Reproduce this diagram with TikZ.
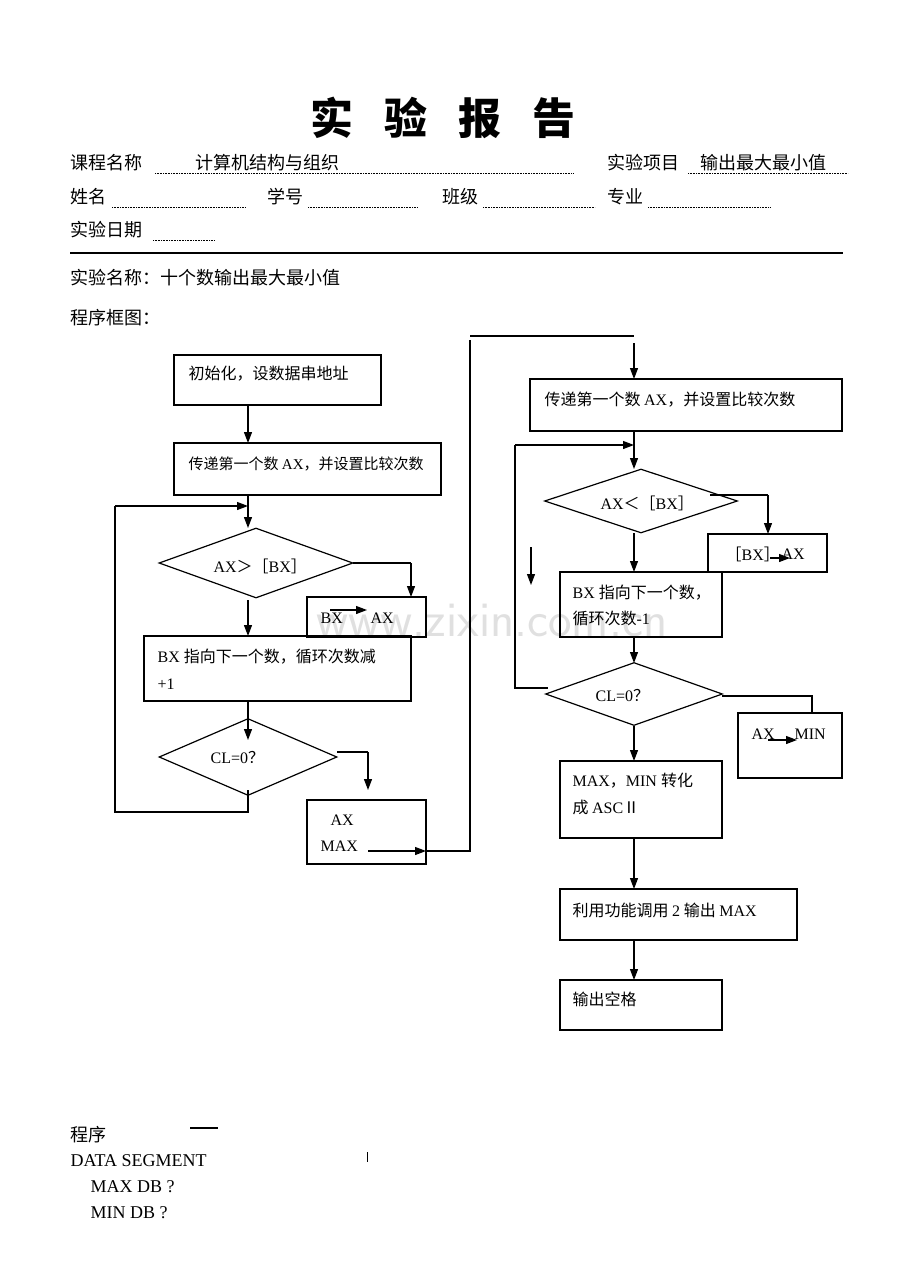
\documentclass[tikz,border=0pt]{standalone}
\usepackage{fontspec}
\setmainfont{Liberation Serif}
\newfontfamily\cjk{Noto Sans CJK SC}
\usetikzlibrary{shapes.geometric,arrows.meta}
\begin{document}
\begin{tikzpicture}[x=1pt,y=-1pt,line width=1.2pt,
  box/.style={draw},
  t/.style={anchor=west,inner sep=0pt,font=\fontsize{16}{19}\selectfont},
  ts/.style={anchor=west,inner sep=0pt,font=\fontsize{15}{18}\selectfont},
  h/.style={anchor=west,inner sep=0pt,font=\fontsize{18}{20}\selectfont},
  ln/.style={},
  ar/.style={-{Triangle[length=11pt,width=8pt]}},
  dots/.style={densely dotted,line width=0.6pt}]
\useasboundingbox (0,0) rectangle (920,1277);
% watermark
\node[text=black!12,font=\fontsize{50}{52}\selectfont\sffamily] (wm) at (492,620) {www.zixin.com.cn};
% header
\node[font=\fontsize{43}{48}\selectfont\cjk\bfseries] (title) at (443,118) {实\hspace{0.72em}验\hspace{0.72em}报\hspace{0.72em}告};
\node[h] (k1) at (70,163) {\cjk 课程名称};
\draw[dots] (155,173) -- (573,173);
\node[h] (k1v) at (195,163) {\cjk 计算机结构与组织};
\node[h] (k2) at (607,163) {\cjk 实验项目};
\draw[dots] (688,173) -- (848,173);
\node[h] (k2v) at (700,163) {\cjk 输出最大最小值};
\node[h] (k3) at (70,197) {\cjk 姓名}; \draw[dots] (112,207) -- (245,207);
\node[h] (k4) at (267,197) {\cjk 学号}; \draw[dots] (308,207) -- (418,207);
\node[h] (k5) at (442,197) {\cjk 班级}; \draw[dots] (483,207) -- (595,207);
\node[h] (k6) at (607,197) {\cjk 专业}; \draw[dots] (648,207) -- (770,207);
\node[h] (k7) at (70,230) {\cjk 实验日期}; \draw[dots] (153,240) -- (214,240);
\draw[line width=1.6pt] (70,253) -- (843,253);
\node[h] (name) at (70,278) {\cjk 实验名称：十个数输出最大最小值};
\node[h] (kt) at (70,318) {\cjk 程序框图：};
% left chart
\draw[box] (174,355) rectangle (381,405);
\node[t] (l1) at (188,374) {\cjk 初始化，设数据串地址};
\draw[box] (174,443) rectangle (441,495);
\node[ts] (l2) at (188,464) {\cjk 传递第一个数 {\rmfamily AX}，并设置比较次数};
\draw[ar] (248,405) -- (248,443);
\draw[ar] (248,495) -- (248,528);
\draw[ar] (115,506) -- (248,506);
\node[draw,diamond,aspect=2.77,minimum width=194,minimum height=70,inner sep=0pt] (d1) at (256,563) {};
\node[t] (d1t) at (213,566) {AX\cjk ＞［\rmfamily BX\cjk ］};
\draw[ln] (353,563) -- (411,563); \draw[ar] (411,563) -- (411,597);
\draw[box] (307,597) rectangle (426,637);
\node[t] (b1a) at (320,618) {BX}; \node[t] (b1b) at (370,618) {AX};
\draw[ar] (330,610) -- (367,610);
\draw[ar] (248,600) -- (248,636);
\draw[box] (144,636) rectangle (411,701);
\node[t] (l3) at (157,657) {BX \cjk 指向下一个数，循环次数减};
\node[t] (l3b) at (157,684) {+1};
\draw[ar] (248,701) -- (248,740);
\node[draw,diamond,aspect=2.31,minimum width=178,minimum height=77,inner sep=0pt] (d2) at (248,757) {};
\node[t] (d2t) at (210,757) {CL=0\cjk ？};
\draw[ln] (337,752) -- (368,752); \draw[ar] (368,752) -- (368,790);
\draw[ln] (248,790) -- (248,812) -- (115,812) -- (115,506);
\draw[box] (307,800) rectangle (426,864);
\node[t] (m1) at (330,820) {AX}; \node[t] (m2) at (320,846) {MAX};
\draw[ar] (368,851) -- (426,851);
\draw[ln] (426,851) -- (470,851) -- (470,340);
\draw[ln] (470,336) -- (634,336);
\draw[ar] (634,343) -- (634,379);
% right chart
\draw[box] (530,379) rectangle (842,431);
\node[t] (r1) at (544,400) {\cjk 传递第一个数 {\rmfamily AX}，并设置比较次数};
\draw[ar] (634,431) -- (634,469);
\draw[ar] (515,445) -- (634,445);
\node[draw,diamond,aspect=3.0,minimum width=193,minimum height=64,inner sep=0pt] (rd1) at (641,501) {};
\node[t] (rd1t) at (600,503) {AX\cjk ＜［\rmfamily BX\cjk ］};
\draw[ln] (710,495) -- (768,495); \draw[ar] (768,495) -- (768,534);
\draw[box] (708,534) rectangle (827,572);
\node[t] (rb1) at (725,554) {\cjk ［\rmfamily BX\cjk ］};
\node[t] (rb2) at (781,554) {AX};
\draw[ar] (770,558) -- (790,558);
\draw[ar] (634,533) -- (634,572);
\draw[ar] (531,547) -- (531,585);
\draw[box] (560,572) rectangle (722,637);
\node[t] (r3a) at (572,593) {BX \cjk 指向下一个数，};
\node[t] (r3b) at (572,618) {\cjk 循环次数{\rmfamily -1}};
\draw[ar] (634,637) -- (634,663);
\node[draw,diamond,aspect=2.8,minimum width=177,minimum height=63,inner sep=0pt] (rd2) at (634,694) {};
\node[t] (rd2t) at (595,695) {CL=0\cjk ？};
\draw[ln] (515,445) -- (515,688) -- (548,688);
\draw[ln] (722,696) -- (812,696) -- (812,713);
\draw[box] (738,713) rectangle (842,778);
\node[t] (mn1) at (751,734) {AX}; \node[t] (mn2) at (794,734) {MIN};
\draw[ar] (768,740) -- (797,740);
\draw[ar] (634,726) -- (634,761);
\draw[box] (560,761) rectangle (722,838);
\node[t] (r4a) at (572,781) {MAX\cjk ，\rmfamily MIN \cjk 转化};
\node[t] (r4b) at (572,807) {\cjk 成 {\rmfamily ASC}Ⅱ};
\draw[ar] (634,838) -- (634,889);
\draw[box] (560,889) rectangle (797,940);
\node[t] (r5) at (572,910) {\cjk 利用功能调用 {\rmfamily 2} 输出 {\rmfamily MAX}};
\draw[ar] (634,940) -- (634,980);
\draw[box] (560,980) rectangle (722,1030);
\node[t] (r6) at (572,999) {\cjk 输出空格};
% program text
\node[h] (p0) at (70,1135) {\cjk 程序};
\draw (190,1128) -- (218,1128);
\node[h] (p1) at (70,1161) {DATA SEGMENT};
\draw[line width=0.8pt] (367,1152) -- (367,1162);
\node[h] (p2) at (90,1187) {MAX DB ?};
\node[h] (p3) at (90,1213) {MIN DB ?};
\end{tikzpicture}
\end{document}
